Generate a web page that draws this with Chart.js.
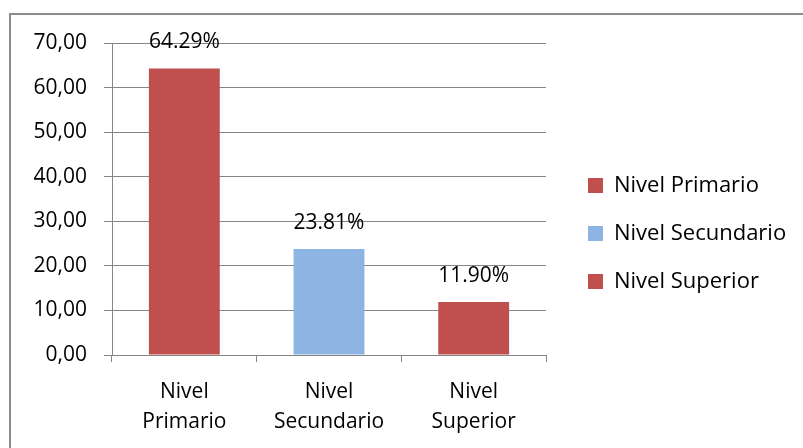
<!DOCTYPE html>
<html lang="es">
<head>
  <meta charset="UTF-8" />
  <title>Nivel educativo</title>
  <style>
    body { margin: 0; background: #fff; }
    .wrap { position: relative; width: 803px; height: 448px; overflow: hidden; }
    .frame {
      position: absolute; left: 9px; top: 13px; width: 900px; height: 500px;
      border-top: 2px solid #8c8c8c; border-left: 2px solid #8c8c8c;
    }
    #chart { position: absolute; left: 0; top: 0; }
  </style>
</head>
<body>
  <div class="wrap">
    <div class="frame"></div>
    <canvas id="chart" width="803" height="448"></canvas>
  </div>

  <script src="https://cdn.jsdelivr.net/npm/chart.js"></script>
  <script>
    const categories = ['Nivel Primario', 'Nivel Secundario', 'Nivel Superior'];
    const percentages = [64.29, 23.81, 11.90];
    const barColors = ['#c0504d', '#8eb4e3', '#c0504d'];
    const yTicks = [0, 10, 20, 30, 40, 50, 60, 70];

    const FONT = '"Open Sans", "DejaVu Sans", sans-serif';
    const GRID = '#868686';

    // value labels above each bar, e.g. "64.29%"
    const barLabels = {
      id: 'barLabels',
      afterDatasetsDraw(chart) {
        const ctx = chart.ctx;
        const meta = chart.getDatasetMeta(0);
        ctx.save();
        ctx.font = '21px ' + FONT;
        ctx.fillStyle = '#000';
        ctx.textAlign = 'center';
        ctx.textBaseline = 'middle';
        meta.data.forEach((bar, i) => {
          ctx.fillText(percentages[i].toFixed(2) + '%', bar.x, bar.y - 26);
        });
        ctx.restore();
      }
    };

    // legend gets a fixed width (the layout would cap it at a quarter of the canvas)
    // and is nudged a little away from the plot, like the original
    const legendNudge = {
      id: 'legendNudge',
      beforeLayout(chart) {
        const lg = chart.legend;
        if (lg && !lg._fixedFit) {
          const fit = lg.fit;
          lg.fit = function () {
            fit.call(this);
            this.width = 257;
          };
          lg._fixedFit = true;
        }
      },
      afterLayout(chart) {
        const lg = chart.legend;
        lg.left += 16;
        lg.top -= 12;
        lg.bottom -= 12;
      }
    };

    new Chart(document.getElementById('chart'), {
      type: 'bar',
      data: {
        labels: categories,
        datasets: [{
          data: percentages,
          backgroundColor: barColors,
          borderWidth: 0,
          categoryPercentage: 1,
          barPercentage: 0.49
        }]
      },
      options: {
        responsive: false,
        animation: false,
        layout: { padding: { top: 43, left: 0, right: 0, bottom: 0 } },
        plugins: {
          tooltip: { enabled: false },
          legend: {
            position: 'right',
            labels: {
              font: { family: FONT, size: 22, lineHeight: 1 },
              color: '#000',
              boxWidth: 15,
              boxHeight: 15,
              padding: 26,
              generateLabels: () => categories.map((c, i) => ({
                text: c,
                fillStyle: barColors[i],
                strokeStyle: barColors[i],
                lineWidth: 0,
                index: i
              }))
            }
          }
        },
        scales: {
          x: {
            grid: {
              offset: true,
              drawOnChartArea: false,
              drawTicks: true,
              tickLength: 7,
              color: GRID
            },
            border: { color: GRID },
            ticks: {
              color: '#000',
              padding: 15,
              font: { family: FONT, size: 21, lineHeight: 1.43 },
              callback: (v, i) => categories[i].split(' ')
            },
            afterFit: s => { s.height = 93; }
          },
          y: {
            min: 0,
            max: 70,
            afterBuildTicks: s => { s.ticks = yTicks.map(v => ({ value: v })); },
            grid: { color: GRID, tickLength: 8 },
            border: { color: GRID },
            ticks: {
              color: '#000',
              padding: 17,
              font: { family: FONT, size: 21 },
              callback: v => v.toFixed(2).replace('.', ',')
            },
            afterFit: s => { s.width = 112; }
          }
        }
      },
      plugins: [barLabels, legendNudge]
    });
  </script>
</body>
</html>
